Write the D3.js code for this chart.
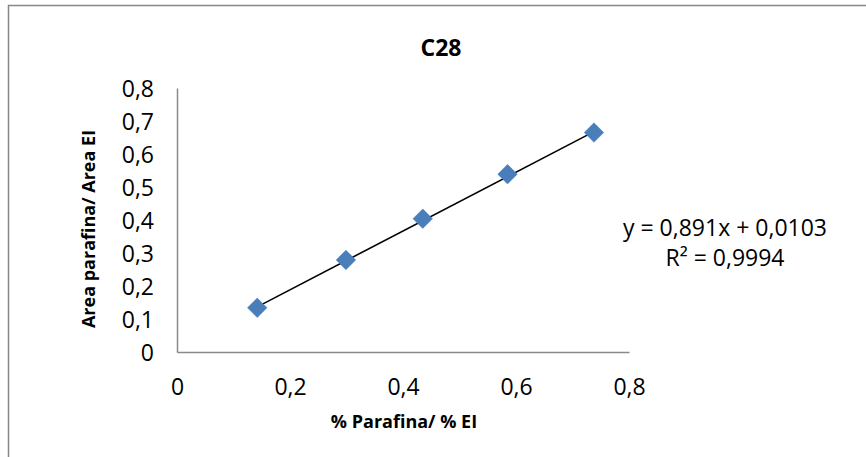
<!DOCTYPE html>
<html>
<head>
<meta charset="utf-8">
<script src="https://cdn.jsdelivr.net/npm/d3@7"></script>
<style>
  html, body { margin: 0; padding: 0; background: #fff; }
  svg { display: block; font-family: "Open Sans", "DejaVu Sans", sans-serif; }
</style>
</head>
<body>
<svg id="chart" width="866" height="457"></svg>
<script>
// Calibration points for C28
const ratioPct  = [0.142, 0.299, 0.435, 0.585, 0.738];   // % Parafina / % EI
const ratioArea = [0.134, 0.279, 0.404, 0.539, 0.665];   // Area parafina / Area EI

// Linear fit reported on the chart
const slope = 0.891;
const intercept = 0.0103;
const r2 = 0.9994;

const xTicks = [0, 0.2, 0.4, 0.6, 0.8];
const yTicks = [0, 0.1, 0.2, 0.3, 0.4, 0.5, 0.6, 0.7, 0.8];

const titleText = "C28";
const xTitle = "% Parafina/ % EI";
const yTitle = "Area parafina/ Area EI";

const fmt = v => (v === 0 ? "0" : d3.format(".1f")(v).replace(".", ","));
const fmtComma = (v, d) => v.toFixed(d).replace(".", ",");

const svg = d3.select("#chart");

// chart frame
svg.append("rect")
  .attr("x", 8.5).attr("y", 5.5)
  .attr("width", 900).attr("height", 500)
  .attr("fill", "#fff")
  .attr("stroke", "#868686")
  .attr("stroke-width", 1.5);

const plot = { left: 177, right: 629, top: 88, bottom: 352 };

const x = d3.scaleLinear().domain([0, 0.8]).range([plot.left, plot.right]);
const y = d3.scaleLinear().domain([0, 0.8]).range([plot.bottom, plot.top]);

// axes (no tick marks, grey lines)
const xAxis = svg.append("g")
  .attr("transform", `translate(0,${plot.bottom})`)
  .call(d3.axisBottom(x).tickValues(xTicks).tickFormat(fmt).tickSize(0).tickPadding(0));
const yAxis = svg.append("g")
  .attr("transform", `translate(${plot.left},0)`)
  .call(d3.axisLeft(y).tickValues(yTicks).tickFormat(fmt).tickSize(0).tickPadding(0));

[xAxis, yAxis].forEach(g => {
  g.select(".domain").attr("stroke", "#8a8a8a").attr("stroke-width", 1.5);
  g.selectAll("text")
    .attr("font-family", "'Open Sans', sans-serif")
    .attr("font-size", 23)
    .attr("fill", "#000");
});
xAxis.selectAll("text").attr("dy", null).attr("y", 43);
yAxis.selectAll("text").attr("dy", null).attr("x", -23).attr("y", 8);

// trendline from the fitted equation
const xExt = d3.extent(ratioPct);
svg.append("line")
  .attr("x1", x(xExt[0])).attr("y1", y(slope * xExt[0] + intercept))
  .attr("x2", x(xExt[1])).attr("y2", y(slope * xExt[1] + intercept))
  .attr("stroke", "#000")
  .attr("stroke-width", 1.6);

// markers
const diamond = d3.symbol().type(d3.symbolSquare).size(190);
svg.append("g").selectAll("path")
  .data(ratioPct.map((v, i) => [v, ratioArea[i]]))
  .join("path")
  .attr("d", diamond)
  .attr("transform", d => `translate(${x(d[0])},${y(d[1])}) rotate(45)`)
  .attr("fill", "#4a7ebb")
  .attr("stroke", "#4a7ebb")
  .attr("stroke-width", 0.5);

// title
svg.append("text")
  .attr("x", 441).attr("y", 56)
  .attr("text-anchor", "middle")
  .attr("font-size", 23)
  .attr("font-weight", "bold")
  .text(titleText);

// axis titles
svg.append("text")
  .attr("x", 404).attr("y", 428)
  .attr("text-anchor", "middle")
  .attr("font-size", 18)
  .attr("font-weight", "bold")
  .text(xTitle);

svg.append("text")
  .attr("transform", "translate(95,229) rotate(-90)")
  .attr("text-anchor", "middle")
  .attr("font-size", 18)
  .attr("font-weight", "bold")
  .text(yTitle);

// equation label
svg.append("text")
  .attr("x", 725).attr("y", 236)
  .attr("text-anchor", "middle")
  .attr("font-size", 23)
  .text(`y = ${fmtComma(slope, 3)}x + ${fmtComma(intercept, 4)}`);
svg.append("text")
  .attr("x", 725).attr("y", 266)
  .attr("text-anchor", "middle")
  .attr("font-size", 23)
  .text(`R² = ${fmtComma(r2, 4)}`);
</script>
</body>
</html>
